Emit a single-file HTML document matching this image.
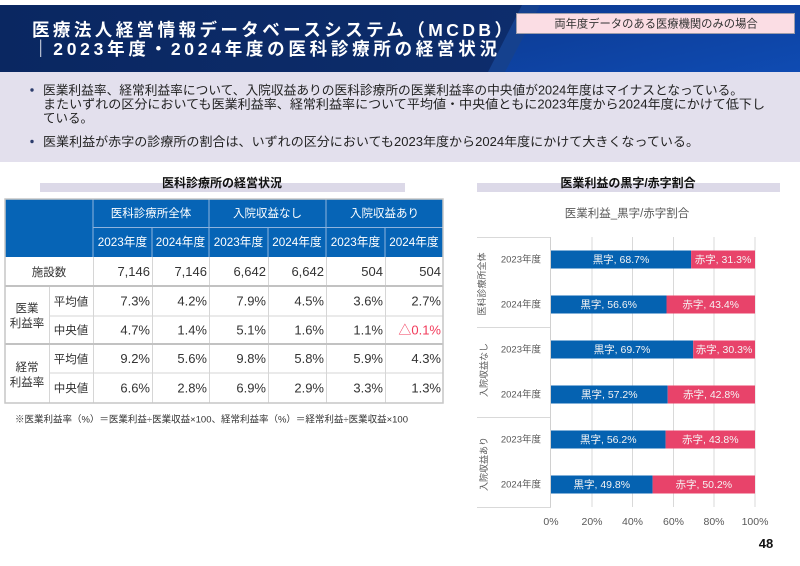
<!DOCTYPE html>
<html><head><meta charset="utf-8"><style>
html,body{margin:0;padding:0;background:#fff;}
svg{display:block;}
text{font-family:"Liberation Sans","Noto Sans CJK JP",sans-serif;}
</style></head><body>
<svg width="800" height="566" viewBox="0 0 800 566" xmlns="http://www.w3.org/2000/svg">
<defs>
<linearGradient id="hl" x1="0" y1="0" x2="1" y2="0">
<stop offset="0" stop-color="#0a2761"/><stop offset="1" stop-color="#0f3072"/>
</linearGradient>
<linearGradient id="hr" x1="0" y1="0" x2="1" y2="1">
<stop offset="0" stop-color="#0c3a92"/><stop offset="1" stop-color="#0f4bb2"/>
</linearGradient>
</defs>
<rect x="0" y="0" width="800" height="566" fill="#fff"/>
<!-- header -->
<rect x="0" y="5" width="800" height="67" fill="url(#hl)"/>
<polygon points="522,5 800,5 800,72 488,72" fill="#15418e"/>
<polygon points="540,5 800,5 800,72 505,72" fill="url(#hr)"/>
<text x="32" y="36" font-size="17.5" font-weight="bold" fill="#fff" textLength="480" lengthAdjust="spacing">医療法人経営情報データベースシステム（MCDB）</text>
<text x="32" y="55" font-size="17.5" font-weight="bold" fill="#fff" textLength="465" lengthAdjust="spacing">｜2023年度・2024年度の医科診療所の経営状況</text>
<rect x="516.5" y="13.5" width="278" height="20" fill="#fbdde4" stroke="#9c9cab" stroke-width="1"/>
<text x="656" y="27.5" font-size="11.3" fill="#333" text-anchor="middle">両年度データのある医療機関のみの場合</text>
<!-- summary band -->
<rect x="0" y="72" width="800" height="90" fill="#e3e0ed"/>
<circle cx="32" cy="90" r="1.7" fill="#2c3c6c"/>
<circle cx="32" cy="141.5" r="1.7" fill="#2c3c6c"/>
<text x="43" y="94.5" font-size="12.5" fill="#222" textLength="700" lengthAdjust="spacingAndGlyphs">医業利益率、経常利益率について、入院収益ありの医科診療所の医業利益率の中央値が2024年度はマイナスとなっている。</text>
<text x="43" y="108.5" font-size="12.5" fill="#222" textLength="722" lengthAdjust="spacingAndGlyphs">またいずれの区分においても医業利益率、経常利益率について平均値・中央値ともに2023年度から2024年度にかけて低下し</text>
<text x="43" y="122.5" font-size="12.5" fill="#222">ている。</text>
<text x="43" y="146" font-size="12.5" fill="#222" textLength="656" lengthAdjust="spacingAndGlyphs">医業利益が赤字の診療所の割合は、いずれの区分においても2023年度から2024年度にかけて大きくなっている。</text>

<!-- left section title -->
<rect x="40" y="183" width="365" height="9" fill="#dcd9e8"/>
<text x="222" y="187" font-size="12" font-weight="bold" fill="#111" text-anchor="middle">医科診療所の経営状況</text>

<!-- table -->
<rect x="5" y="199" width="438" height="58" fill="#0664b6"/>
<rect x="5" y="257" width="438" height="146" fill="#fff"/>
<g stroke="#8fb3dd" stroke-width="1">
<line x1="93" y1="199" x2="93" y2="257"/>
<line x1="209" y1="199" x2="209" y2="257"/>
<line x1="326" y1="199" x2="326" y2="257"/>
<line x1="93" y1="227.5" x2="443" y2="227.5"/>
<line x1="152" y1="227" x2="152" y2="257"/>
<line x1="268" y1="227" x2="268" y2="257"/>
<line x1="385" y1="227" x2="385" y2="257"/>
</g>
<g stroke="#d6d6d6" stroke-width="1">
<line x1="93.5" y1="257" x2="93.5" y2="403"/>
<line x1="152.5" y1="257" x2="152.5" y2="403"/>
<line x1="209.5" y1="257" x2="209.5" y2="403"/>
<line x1="268.5" y1="257" x2="268.5" y2="403"/>
<line x1="326.5" y1="257" x2="326.5" y2="403"/>
<line x1="385.5" y1="257" x2="385.5" y2="403"/>
<line x1="49.5" y1="286" x2="49.5" y2="403"/>
<line x1="49" y1="316" x2="443" y2="316"/>
<line x1="49" y1="373" x2="443" y2="373"/>
</g>
<g stroke="#c2c2c2" stroke-width="2">
<line x1="5" y1="286" x2="443" y2="286"/>
<line x1="5" y1="344" x2="443" y2="344"/>
</g>
<rect x="5" y="199" width="438" height="204" fill="none" stroke="#c6c6c6" stroke-width="1.5"/>

<g font-size="11.5" fill="#fff" text-anchor="middle">
<text x="151" y="217">医科診療所全体</text>
<text x="267.5" y="217">入院収益なし</text>
<text x="384.5" y="217">入院収益あり</text>
</g>
<g font-size="11.7" fill="#fff" text-anchor="middle">
<text x="122.5" y="246">2023年度</text>
<text x="180.5" y="246">2024年度</text>
<text x="238.5" y="246">2023年度</text>
<text x="297" y="246">2024年度</text>
<text x="355.5" y="246">2023年度</text>
<text x="414" y="246">2024年度</text>
</g>
<g font-size="11.5" fill="#333" text-anchor="middle">
<text x="49" y="276">施設数</text>
<text x="71" y="305.5">平均値</text>
<text x="71" y="334">中央値</text>
<text x="71" y="363">平均値</text>
<text x="71" y="392">中央値</text>
<text x="27" y="312">医業</text>
<text x="27" y="327">利益率</text>
<text x="27" y="371">経常</text>
<text x="27" y="386">利益率</text>
</g>
<g font-size="13" fill="#333" text-anchor="end">
<text x="150" y="276">7,146</text><text x="207" y="276">7,146</text><text x="266" y="276">6,642</text><text x="324" y="276">6,642</text><text x="383" y="276">504</text><text x="441" y="276">504</text>
<text x="150" y="305.5">7.3%</text><text x="207" y="305.5">4.2%</text><text x="266" y="305.5">7.9%</text><text x="324" y="305.5">4.5%</text><text x="383" y="305.5">3.6%</text><text x="441" y="305.5">2.7%</text>
<text x="150" y="334.5">4.7%</text><text x="207" y="334.5">1.4%</text><text x="266" y="334.5">5.1%</text><text x="324" y="334.5">1.6%</text><text x="383" y="334.5">1.1%</text><text x="441" y="334.5" fill="#f23a5a">△0.1%</text>
<text x="150" y="363">9.2%</text><text x="207" y="363">5.6%</text><text x="266" y="363">9.8%</text><text x="324" y="363">5.8%</text><text x="383" y="363">5.9%</text><text x="441" y="363">4.3%</text>
<text x="150" y="392.5">6.6%</text><text x="207" y="392.5">2.8%</text><text x="266" y="392.5">6.9%</text><text x="324" y="392.5">2.9%</text><text x="383" y="392.5">3.3%</text><text x="441" y="392.5">1.3%</text>
</g>
<text x="15" y="422.5" font-size="9.4" fill="#333" textLength="393" lengthAdjust="spacingAndGlyphs">※医業利益率（%）＝医業利益÷医業収益×100、経常利益率（%）＝経常利益÷医業収益×100</text>

<!-- right section title -->
<rect x="477" y="183" width="303" height="9" fill="#dcd9e8"/>
<text x="628" y="187" font-size="12" font-weight="bold" fill="#111" text-anchor="middle">医業利益の黒字/赤字割合</text>
<text x="627" y="217" font-size="11.5" fill="#595959" text-anchor="middle">医業利益_黒字/赤字割合</text>

<!-- chart grid -->
<g stroke="#d9d9d9" stroke-width="1">
<line x1="592" y1="237" x2="592" y2="507"/>
<line x1="632.5" y1="237" x2="632.5" y2="507"/>
<line x1="673.5" y1="237" x2="673.5" y2="507"/>
<line x1="714" y1="237" x2="714" y2="507"/>
<line x1="755" y1="237" x2="755" y2="507"/>
<line x1="477" y1="237.5" x2="551" y2="237.5"/>
<line x1="477" y1="327.5" x2="551" y2="327.5"/>
<line x1="477" y1="417.5" x2="551" y2="417.5"/>
<line x1="477" y1="507.5" x2="551" y2="507.5"/>
</g>
<line x1="550.5" y1="237" x2="550.5" y2="507" stroke="#d0d0d0" stroke-width="1"/>

<!-- bars -->
<g>
<rect x="551" y="250.5" width="140.1" height="18" fill="#0562b1"/><rect x="691.1" y="250.5" width="63.9" height="18" fill="#e8436a"/>
<rect x="551" y="295.5" width="115.5" height="18" fill="#0562b1"/><rect x="666.5" y="295.5" width="88.5" height="18" fill="#e8436a"/>
<rect x="551" y="340.5" width="142.2" height="18" fill="#0562b1"/><rect x="693.2" y="340.5" width="61.8" height="18" fill="#e8436a"/>
<rect x="551" y="385.5" width="116.7" height="18" fill="#0562b1"/><rect x="667.7" y="385.5" width="87.3" height="18" fill="#e8436a"/>
<rect x="551" y="430.5" width="114.6" height="18" fill="#0562b1"/><rect x="665.6" y="430.5" width="89.4" height="18" fill="#e8436a"/>
<rect x="551" y="475.5" width="101.6" height="18" fill="#0562b1"/><rect x="652.6" y="475.5" width="102.4" height="18" fill="#e8436a"/>
</g>
<g font-size="10.5" fill="#f4f4f4" text-anchor="middle">
<text x="621" y="263">黒字, 68.7%</text><text x="723" y="263">赤字, 31.3%</text>
<text x="608.7" y="308">黒字, 56.6%</text><text x="710.7" y="308">赤字, 43.4%</text>
<text x="622" y="353">黒字, 69.7%</text><text x="724" y="353">赤字, 30.3%</text>
<text x="609.3" y="398">黒字, 57.2%</text><text x="711.3" y="398">赤字, 42.8%</text>
<text x="608.3" y="443">黒字, 56.2%</text><text x="710.3" y="443">赤字, 43.8%</text>
<text x="601.8" y="488">黒字, 49.8%</text><text x="703.8" y="488">赤字, 50.2%</text>
</g>
<g font-size="9.5" fill="#595959" text-anchor="end">
<text x="541" y="262.5">2023年度</text>
<text x="541" y="307.5">2024年度</text>
<text x="541" y="352.5">2023年度</text>
<text x="541" y="397.5">2024年度</text>
<text x="541" y="442.5">2023年度</text>
<text x="541" y="487.5">2024年度</text>
</g>
<g font-size="9" fill="#595959" text-anchor="middle">
<text transform="translate(485,284) rotate(-90)">医科診療所全体</text>
<text transform="translate(487,370) rotate(-90)">入院収益なし</text>
<text transform="translate(487,464) rotate(-90)">入院収益あり</text>
</g>
<g font-size="10.5" fill="#595959" text-anchor="middle">
<text x="551" y="525">0%</text>
<text x="592" y="525">20%</text>
<text x="632.5" y="525">40%</text>
<text x="673.5" y="525">60%</text>
<text x="714" y="525">80%</text>
<text x="755" y="525">100%</text>
</g>
<text x="766" y="548" font-size="13" font-weight="bold" fill="#111" text-anchor="middle">48</text>
</svg>
</body></html>
